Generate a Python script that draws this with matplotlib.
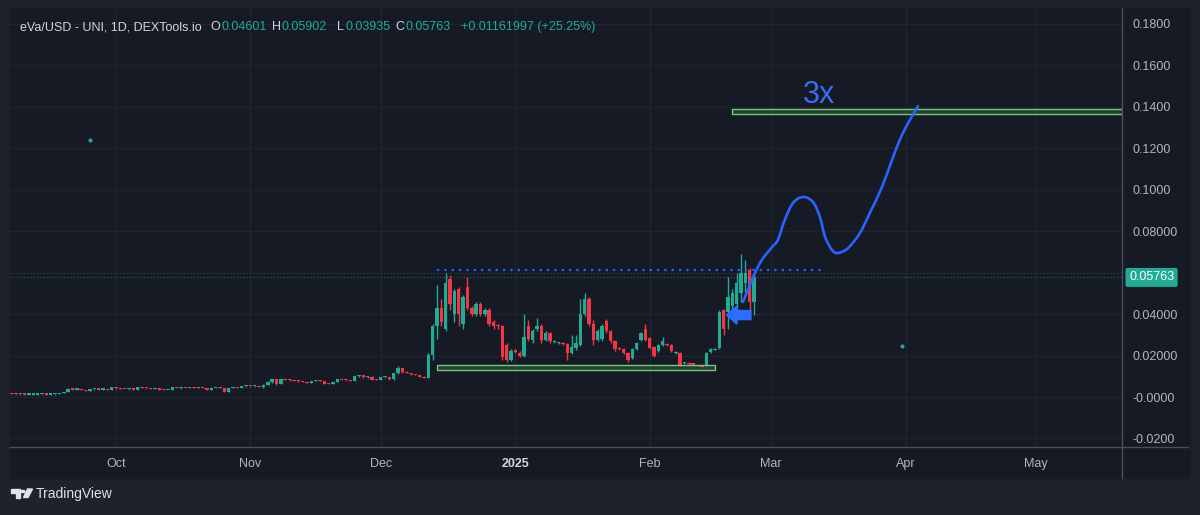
import numpy as np
import pandas as pd
import matplotlib
matplotlib.use("Agg")
import matplotlib.pyplot as plt
import matplotlib.dates as mdates
import matplotlib.transforms as mtransforms
from matplotlib.patches import Rectangle, FancyArrow, Polygon, PathPatch
from matplotlib.path import Path

plt.rcParams['font.family'] = ['Liberation Sans', 'DejaVu Sans']

# ---- daily candles, eVa/USD, first bar 2024-09-07 ----
start_day = '2024-09-07'
opens = [
    # Sep
    .0016, .0014, .0013, .0013, .0012, .0012, .0012, .0013, .0013, .0012, .0013, .0014, .0019,
    .0024, .0040, .0036, .0037, .0034, .0029, .0038, .0039, .0036, .0037, .0035,
    # Oct
    .0048, .0041, .0039, .0038, .0039, .0036, .0046, .0044, .0041, .0039, .0040, .0036, .0034,
    .0035, .0047, .0042, .0043, .0042, .0046, .0045, .0046, .0043, .0036, .0045, .0046, .0043,
    .0026, .0042, .0045, .0044, .0051,
    # Nov
    .0053, .0051, .0053, .0047, .0060, .0071, .0087, .0062, .0086, .0083, .0080, .0078, .0075,
    .0071, .0068, .0076, .0080, .0077, .0065, .0062, .0071, .0087, .0081, .0080, .0078, .0100,
    .0104, .0094, .0098, .0084,
    # Dec
    .0081, .0094, .0096, .0086, .0115, .0140, .0121, .0116, .0110, .0106, .0096, .0093, .0202,
    .0340, .0430, .0330, .0570, .0400, .0520, .0350, .0530, .0430, .0400, .0450, .0400, .0420,
    .0360, .0345, .0340, .0250, .0180,
    # Jan
    .0225, .0210, .0200, .0340, .0275, .0330, .0340, .0275, .0310, .0265, .0258, .0262, .0255,
    .0210, .0235, .0250, .0400, .0470, .0350, .0275, .0280, .0365, .0320, .0270, .0235, .0230,
    .0210, .0190, .0230, .0275, .0330,
    # Feb
    .0285, .0240, .0220, .0250, .0255, .0250, .0210, .0210, .0162, .0165, .0162, .0150, .0152,
    .0150, .0215, .0228, .0235, .0420, .0410, .0440, .0450, .0500, .0550, .0610, .04601,
]
highs = [
    .0017, .0015, .0014, .0014, .0013, .0013, .0013, .0014, .0014, .0013, .0014, .0020, .0025,
    .0042, .0042, .0039, .0038, .0035, .0040, .0040, .0040, .0038, .0038, .0050,
    .0049, .0042, .0040, .0040, .0040, .0047, .0048, .0045, .0042, .0041, .0041, .0037, .0036,
    .0049, .0050, .0044, .0045, .0047, .0048, .0047, .0047, .0044, .0046, .0047, .0047, .0044,
    .0044, .0046, .0046, .0052, .0054,
    .0054, .0054, .0054, .0061, .0075, .0089, .0088, .0088, .0089, .0085, .0082, .0080, .0077,
    .0073, .0077, .0081, .0081, .0078, .0067, .0072, .0089, .0088, .0083, .0082, .0102, .0106,
    .0106, .0100, .0099, .0086,
    .0096, .0098, .0098, .0118, .0148, .0142, .0123, .0118, .0112, .0108, .0100, .0210, .0350,
    .0540, .0470, .0600, .0590, .0520, .0530, .0490, .0580, .0440, .0460, .0460, .0430, .0430,
    .0370, .0350, .0345, .0260, .0230,
    .0230, .0220, .0400, .0370, .0330, .0380, .0350, .0320, .0315, .0275, .0265, .0265, .0260,
    .0300, .0300, .0470, .0500, .0480, .0370, .0330, .0350, .0375, .0325, .0275, .0240, .0235,
    .0215, .0235, .0265, .0315, .0350,
    .0290, .0245, .0255, .0290, .0260, .0255, .0220, .0215, .0170, .0168, .0165, .0156, .0155,
    .0215, .0235, .0236, .0420, .0425, .0580, .0520, .0600, .0690, .0660, .0620, .05902,
]
lows = [
    .0014, .0012, .0012, .0011, .0011, .0011, .0011, .0012, .0012, .0011, .0012, .0013, .0018,
    .0022, .0034, .0033, .0032, .0028, .0028, .0036, .0035, .0035, .0034, .0034,
    .0040, .0038, .0037, .0036, .0035, .0035, .0043, .0040, .0038, .0037, .0035, .0033, .0032,
    .0034, .0041, .0040, .0041, .0041, .0044, .0043, .0042, .0034, .0035, .0043, .0042, .0024,
    .0025, .0041, .0043, .0043, .0049,
    .0050, .0050, .0046, .0045, .0058, .0069, .0060, .0061, .0082, .0079, .0077, .0074, .0070,
    .0067, .0067, .0075, .0076, .0063, .0061, .0061, .0070, .0080, .0079, .0077, .0077, .0097,
    .0092, .0092, .0082, .0080,
    .0080, .0092, .0084, .0084, .0113, .0118, .0114, .0108, .0104, .0094, .0090, .0090, .0180,
    .0280, .0340, .0320, .0420, .0360, .0340, .0330, .0420, .0390, .0390, .0390, .0390, .0340,
    .0330, .0330, .0180, .0170, .0175,
    .0210, .0195, .0195, .0270, .0260, .0320, .0260, .0270, .0260, .0260, .0255, .0250, .0180,
    .0205, .0225, .0245, .0390, .0340, .0250, .0270, .0270, .0310, .0260, .0220, .0225, .0205,
    .0170, .0185, .0225, .0270, .0270,
    .0230, .0195, .0215, .0245, .0245, .0215, .0205, .0150, .0160, .0155, .0150, .0148, .0143,
    .0148, .0212, .0226, .0230, .0300, .0330, .0400, .0400, .0460, .0500, .0400, .03935,
]
closes = [
    .0014, .0013, .0013, .0012, .0012, .0012, .0013, .0013, .0012, .0013, .0014, .0019, .0024,
    .0040, .0036, .0037, .0034, .0029, .0038, .0039, .0036, .0037, .0035, .0048,
    .0041, .0039, .0038, .0039, .0036, .0046, .0044, .0041, .0039, .0040, .0036, .0034, .0035,
    .0047, .0042, .0043, .0042, .0046, .0045, .0046, .0043, .0036, .0045, .0046, .0043, .0026,
    .0042, .0045, .0044, .0051, .0053,
    .0051, .0053, .0047, .0060, .0071, .0087, .0062, .0086, .0083, .0080, .0078, .0075, .0071,
    .0068, .0076, .0080, .0077, .0065, .0062, .0071, .0087, .0081, .0080, .0078, .0100, .0104,
    .0094, .0098, .0084, .0081,
    .0094, .0096, .0086, .0115, .0140, .0121, .0116, .0110, .0106, .0096, .0093, .0202, .0340,
    .0430, .0360, .0550, .0450, .0510, .0400, .0480, .0430, .0400, .0450, .0400, .0420, .0350,
    .0340, .0340, .0195, .0180, .0220,
    .0215, .0200, .0290, .0280, .0320, .0340, .0275, .0310, .0270, .0272, .0262, .0255, .0210,
    .0240, .0260, .0400, .0470, .0350, .0275, .0320, .0340, .0320, .0270, .0230, .0230, .0210,
    .0180, .0230, .0260, .0310, .0275,
    .0235, .0200, .0250, .0270, .0250, .0220, .0215, .0155, .0167, .0160, .0155, .0153, .0146,
    .0210, .0230, .0233, .0410, .0330, .0480, .0500, .0550, .0600, .0600, .0460, .05763,
]
last_price = 0.05763

# ---- axes ----
month_starts = ['2024-10-01', '2024-11-01', '2024-12-01', '2025-01-01',
                '2025-02-01', '2025-03-01', '2025-04-01', '2025-05-01']
month_labels = ['Oct', 'Nov', 'Dec', '2025', 'Feb', 'Mar', 'Apr', 'May']
price_ticks = [-0.02, 0.0, 0.02, 0.04, 0.06, 0.08, 0.10, 0.12, 0.14, 0.16, 0.18]
# 0.06 label sits under the last-price tag
price_labels = ['-0.0200', '-0.0000', '0.02000', '0.04000', '', '0.08000',
                '0.1000', '0.1200', '0.1400', '0.1600', '0.1800']

# ---- drawings (dates, prices) ----
range_top = 0.0612
range_top_span = ('2024-12-14', '2025-03-13')
support_box = ('2024-12-14', '2025-02-16', 0.0130, 0.0154)
target_box = ('2025-02-20', '2025-07-01', 0.1364, 0.1388)
target_label = ('2025-03-12', 0.1455, '3x')
# hand drawn path, days after 2024-10-01
path_days = [144.5, 146.8, 148.8, 151.2, 152.5, 154.1, 156.0, 158.3, 160.6, 162.2, 163.4,
             165.0, 166.4, 168.7, 171.4, 173.7, 176.5, 178.8, 180.6, 182.5, 184.8]
path_prices = [.0458, .0578, .0660, .0723, .0757, .0853, .0935, .0964, .0940, .0867, .0771,
               .0708, .0694, .0718, .0790, .0887, .1012, .1142, .1239, .1320, .1402]
arrow_tail = (146.3, 0.0395)   # days after 2024-10-01, price
stray_dots = [('2024-09-25', 0.1239), ('2025-03-31', 0.0246)]

UP = '#22ab94'
DOWN = '#f23645'
BLUE = '#2962ff'
BG = '#161a25'
FRAME = '#1e222d'
GRID = '#20242f'
TXT = '#b2b5be'

W, H = 1200, 515
fig = plt.figure(figsize=(W / 100, H / 100), dpi=100, facecolor=FRAME)

def fx(px):
    return px / W

def fy(py):
    return 1 - py / H

# dark panel behind chart + scales
fig.patches.append(Rectangle((fx(10), fy(478)), fx(1180), 470 / H,
                             transform=fig.transFigure, color=BG, zorder=-5))

ax = fig.add_axes([fx(10), fy(447), fx(1112), 439 / H])
ax.set_facecolor(BG)
for s in ax.spines.values():
    s.set_visible(False)

base = mdates.date2num(pd.Timestamp('2024-10-01'))
ax.set_xlim(base - 24.4, base + 231.8)
ax.set_ylim(-0.0241, 0.1875)

ax.set_xticks(mdates.date2num(pd.to_datetime(month_starts)))
ax.set_xticklabels(month_labels)
ax.set_yticks(price_ticks)
ax.set_yticklabels(price_labels)
ax.yaxis.tick_right()
ax.tick_params(axis='x', length=0, pad=8, colors=TXT, labelsize=9)
ax.tick_params(axis='y', length=0, pad=7.5, colors=TXT, labelsize=9)
for t in ax.get_xticklabels():
    if t.get_text() == '2025':
        t.set_fontweight('bold')
        t.set_color('#d1d4dc')
ax.grid(True, color=GRID, lw=1)
ax.set_axisbelow(True)

# candles
x = mdates.date2num(pd.date_range(start_day, periods=len(closes), freq='D'))
o = np.array(opens)
h = np.array(highs)
l = np.array(lows)
c = np.array(closes)
cols = np.where(c >= o, UP, DOWN)
ax.vlines(x, l, h, colors=cols, lw=1, zorder=3)
ax.bar(x, np.maximum(np.abs(c - o), 0.0005), bottom=np.minimum(o, c), width=0.78,
       color=cols, linewidth=0, zorder=4)

# last price line
ax.axhline(last_price, color=UP, lw=0.8, ls=(0, (1, 2)), alpha=0.6, zorder=2)

# range top dotted line
d0, d1 = mdates.date2num(pd.to_datetime(list(range_top_span)))
ax.plot([d0, d1], [range_top, range_top], color=BLUE, lw=1.6, ls=(0, (1, 2.3)), zorder=5)

# boxes
for b in (support_box, target_box):
    b0, b1 = mdates.date2num(pd.to_datetime(list(b[:2])))
    ax.add_patch(Rectangle((b0, b[2]), b1 - b0, b[3] - b[2], facecolor='#4caf50',
                           alpha=0.25, edgecolor='none', zorder=5))
    ax.add_patch(Rectangle((b0, b[2]), b1 - b0, b[3] - b[2], facecolor='none',
                           edgecolor='#7cc47f', lw=1, zorder=5))

# drawn path, passed through as a smooth bezier (catmull-rom control points)
pts = np.column_stack([base + np.array(path_days), np.array(path_prices)])
ext = np.vstack([pts[0], pts, pts[-1]])
verts = [tuple(pts[0])]
codes = [Path.MOVETO]
for i in range(1, len(ext) - 2):
    p0, p1, p2, p3 = ext[i - 1], ext[i], ext[i + 1], ext[i + 2]
    verts += [tuple(p1 + (p2 - p0) / 6), tuple(p2 - (p3 - p1) / 6), tuple(p2)]
    codes += [Path.CURVE4] * 3
ax.add_patch(PathPatch(Path(verts, codes), facecolor='none', edgecolor=BLUE, lw=1.9,
                       capstyle='round', joinstyle='round', zorder=6))

# arrow pointing left
ax.add_patch(FancyArrow(base + arrow_tail[0], arrow_tail[1], -5.6, 0, width=0.0044,
                        head_width=0.0088, head_length=2.4, length_includes_head=True,
                        color='#2e6bff', zorder=7))

tl = target_label
ax.text(mdates.date2num(pd.Timestamp(tl[0])), tl[1], tl[2], color='#3a6cf4', fontsize=22,
        ha='center', va='center', zorder=6)

for dday, pr in stray_dots:
    ax.plot(mdates.date2num(pd.Timestamp(dday)), pr, 'o', ms=2, color='#26a69a', zorder=6)

# last price tag on the price scale
trans = mtransforms.blended_transform_factory(ax.transAxes, ax.transData)
ax.text(1.0 + 7 / 1112, last_price, '0.05763', transform=trans, color='white', fontsize=9,
        ha='left', va='center', clip_on=False, zorder=10,
        bbox=dict(boxstyle='round,pad=0.28,rounding_size=0.15', fc=UP, ec='none'))

# scale separators
fig.add_artist(plt.Line2D([fx(1122), fx(1122)], [fy(8), fy(478)], color='#4a4e5a', lw=1))
fig.add_artist(plt.Line2D([fx(10), fx(1188)], [fy(447), fy(447)], color='#4a4e5a', lw=1))

# legend line: (letter, value, value x)
fig.text(fx(20), fy(27), 'eVa/USD - UNI, 1D, DEXTools.io', color='#d1d4dc', fontsize=9,
         ha='left', va='center')
ohlc = [('O', '0.04601', 221), ('H', '0.05902', 282), ('L', '0.03935', 345),
        ('C', '0.05763', 405)]
for letter, val, px in ohlc:
    fig.text(fx(px - 1), fy(27), letter, color='#d1d4dc', fontsize=9, ha='right', va='center')
    fig.text(fx(px), fy(27), val, color=UP, fontsize=9, ha='left', va='center')
fig.text(fx(461), fy(27), '+0.01161997 (+25.25%)', color=UP, fontsize=9,
         ha='left', va='center')

# TradingView mark
logo_col = '#e0e3eb'
for pts_ in ([(11, 489), (19.5, 489), (19.5, 497.5), (15.5, 497.5), (15.5, 492.5), (11, 492.5)],
             [(21, 489.5), (23.5, 489.5), (23.5, 492), (21, 492)],
             [(27.5, 489), (32.5, 489), (28, 497.5), (23.5, 497.5)]):
    fig.patches.append(Polygon([(fx(a), fy(b)) for a, b in pts_], closed=True,
                               transform=fig.transFigure, color=logo_col))
fig.text(fx(36), fy(494), 'TradingView', color=logo_col, fontsize=10, ha='left', va='center')

fig.savefig('out.png', dpi=100, facecolor=FRAME)
